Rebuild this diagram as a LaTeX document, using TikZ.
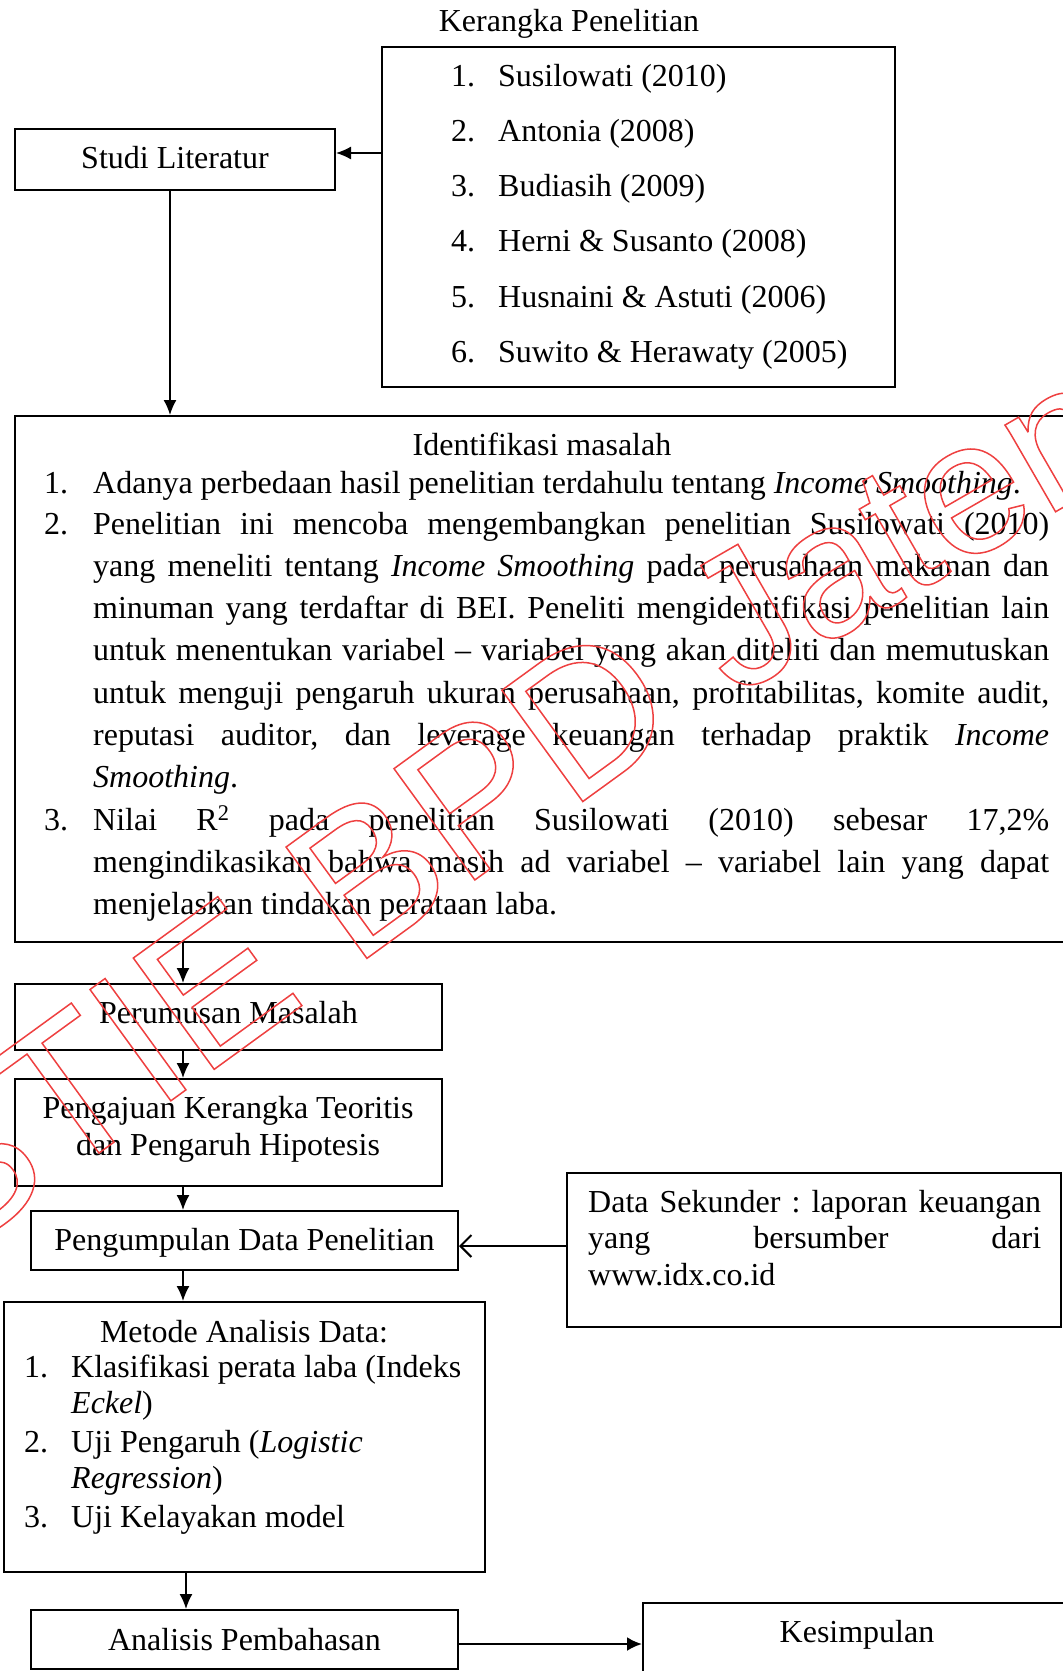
\documentclass[tikz,border=0pt]{standalone}
\usepackage{fontspec}
\setmainfont{Liberation Serif}
\newfontfamily\wmfont{Liberation Sans}
\usetikzlibrary{arrows.meta}
\definecolor{wmred}{RGB}{238,64,64}
\newcommand\outlinetxt[1]{\special{pdf:literal direct 1 Tr 1.5 w}#1\special{pdf:literal direct 0 Tr}}
\newcommand\parasetup{\frenchspacing\hyphenpenalty=10000\relax\tolerance=10000\relax}
\begin{document}
\begin{tikzpicture}[x=1pt,y=-1pt,
  box/.style={draw, line width=2pt, inner sep=0pt},
  lbl/.style={inner sep=0pt, font=\fontsize{32}{40}\selectfont},
  para/.style={inner sep=0pt, align=justify, anchor=base west,
    font=\fontsize{32}{42.3}\selectfont\parasetup},
  arr/.style={line width=1.6pt, -{Latex[length=15pt,width=13pt]}},
  harr/.style={line width=2.4pt, -{Latex[length=15pt,width=14pt]}},
  barb/.style={line width=2pt, -{Straight Barb[length=11pt,width=22pt]}},
  wm/.style={inner sep=0pt, anchor=base west, text=wmred}]
\clip (0,0) rectangle (1063,1671);

% boxes
\node[box, minimum width=513pt, minimum height=340pt] (kerangka) at (638.5,217) {};
\node[box, minimum width=320pt, minimum height=61pt] (studi) at (175,159.5) {};
\node[box, minimum width=1075pt, minimum height=526pt] (ident) at (552.5,679) {};
\node[box, minimum width=427pt, minimum height=66pt] (perum) at (228.5,1017) {};
\node[box, minimum width=427pt, minimum height=107pt] (pengaj) at (228.5,1132.5) {};
\node[box, minimum width=427pt, minimum height=59pt] (pengump) at (244.5,1240.5) {};
\node[box, minimum width=494pt, minimum height=154pt] (datasek) at (814,1250) {};
\node[box, minimum width=481.5pt, minimum height=270pt] (metode) at (244.25,1437) {};
\node[box, minimum width=427pt, minimum height=59pt] (analisis) at (244.5,1639.5) {};
\node[box, minimum width=457pt, minimum height=117pt] (kesimp) at (871.5,1661.5) {};

% texts
\node[lbl, anchor=base] (kttl) at (569,31.5) {Kerangka Penelitian};
\foreach \i/\t in {1/{Susilowati (2010)}, 2/{Antonia (2008)}, 3/{Budiasih (2009)},
  4/{Herni \& Susanto (2008)}, 5/{Husnaini \& Astuti (2006)}, 6/{Suwito \& Herawaty (2005)}} {
  \node[lbl, anchor=base west] (kn\i) at (451,{86+55.3*(\i-1)}) {\i.};
  \node[lbl, anchor=base west] (kt\i) at (498,{86+55.3*(\i-1)}) {\t};
}
\node[lbl, anchor=base] (studiT) at (175,168) {Studi Literatur};

\node[lbl, anchor=base] (identT) at (542,455) {Identifikasi masalah};
\node[lbl, anchor=base west] (in1) at (44,493) {1.};
\node[lbl, anchor=base west] (in2) at (44,534) {2.};
\node[lbl, anchor=base west] (in3) at (44,830) {3.};
\node[para, text width=956pt] (it1) at (93,493)
 {Adanya perbedaan hasil penelitian terdahulu tentang \textit{Income Smoothing}.};
\node[para, text width=956pt] (it2) at (93,534)
 {Penelitian ini mencoba mengembangkan penelitian Susilowati (2010)\linebreak
  yang meneliti tentang \textit{Income Smoothing} pada perusahaan makanan dan\linebreak
  minuman yang terdaftar di BEI. Peneliti mengidentifikasi penelitian lain\linebreak
  untuk menentukan variabel – variabel yang akan diteliti dan memutuskan\linebreak
  untuk menguji pengaruh ukuran perusahaan, profitabilitas, komite audit,\linebreak
  reputasi auditor, dan leverage keuangan terhadap praktik \textit{Income}\linebreak
  \textit{Smoothing}.};
\node[para, text width=956pt] (it3) at (93,830)
 {Nilai R\textsuperscript{2} pada penelitian Susilowati (2010) sebesar 17,2\%\linebreak
  mengindikasikan bahwa masih ad variabel – variabel lain yang dapat\linebreak
  menjelaskan tindakan perataan laba.};

\node[lbl, anchor=base] (perumT) at (228.5,1023) {Perumusan Masalah};
\node[lbl, anchor=base] (pengajT1) at (228,1118) {Pengajuan Kerangka Teoritis};
\node[lbl, anchor=base] (pengajT2) at (228,1155) {dan Pengaruh Hipotesis};
\node[lbl, anchor=base] (pengumpT) at (244.5,1250) {Pengumpulan Data Penelitian};
\node[para, text width=453pt, font=\fontsize{32}{36.5}\selectfont\parasetup] (dataT) at (588,1212)
 {Data Sekunder : laporan keuangan\linebreak yang bersumber dari\linebreak www.idx.co.id};

\node[lbl, anchor=base] (metT) at (244,1342) {Metode Analisis Data:};
\node[lbl, anchor=base west] (mn1) at (24,1377) {1.};
\node[lbl, anchor=base west] (mt1a) at (71,1377) {Klasifikasi perata laba (Indeks};
\node[lbl, anchor=base west] (mt1b) at (71,1413) {\textit{Eckel})};
\node[lbl, anchor=base west] (mn2) at (24,1452) {2.};
\node[lbl, anchor=base west] (mt2a) at (71,1452) {Uji Pengaruh (\textit{Logistic}};
\node[lbl, anchor=base west] (mt2b) at (71,1488) {\textit{Regression})};
\node[lbl, anchor=base west] (mn3) at (24,1527) {3.};
\node[lbl, anchor=base west] (mt3) at (71,1527) {Uji Kelayakan model};

\node[lbl, anchor=base] (analT) at (244.5,1650) {Analisis Pembahasan};
\node[lbl, anchor=base] (kesT) at (857,1642) {Kesimpulan};

% connectors
\draw[arr] (kerangka.west |- 0,153) -- (studi.east |- 0,153);
\draw[arr] (studi.south -| 170,0) -- (ident.north -| 170,0);
\draw[arr] (ident.south -| 183,0) -- (perum.north -| 183,0);
\draw[arr] (perum.south -| 183,0) -- (pengaj.north -| 183,0);
\draw[arr] (pengaj.south -| 183,0) -- (pengump.north -| 183,0);
\draw[arr] (pengump.south -| 183,0) -- (metode.north -| 183,0);
\draw[arr] (metode.south -| 186,0) -- (analisis.north -| 186,0);
\draw[barb] (datasek.west |- 0,1246) -- (pengump.east |- 0,1246);
\draw[harr] (analisis.east |- 0,1644) -- (kesimp.west |- 0,1644);

% watermark
\node[wm, rotate=36, font=\wmfont\fontsize{200}{200}\selectfont] (wm1) at (-51,1262) {\outlinetxt{STIE BPD}};
\node[wm, rotate=30, font=\wmfont\fontsize{190}{190}\selectfont] (wm2) at (733,698) {\outlinetxt{Jateng}};
\end{tikzpicture}
\end{document}
